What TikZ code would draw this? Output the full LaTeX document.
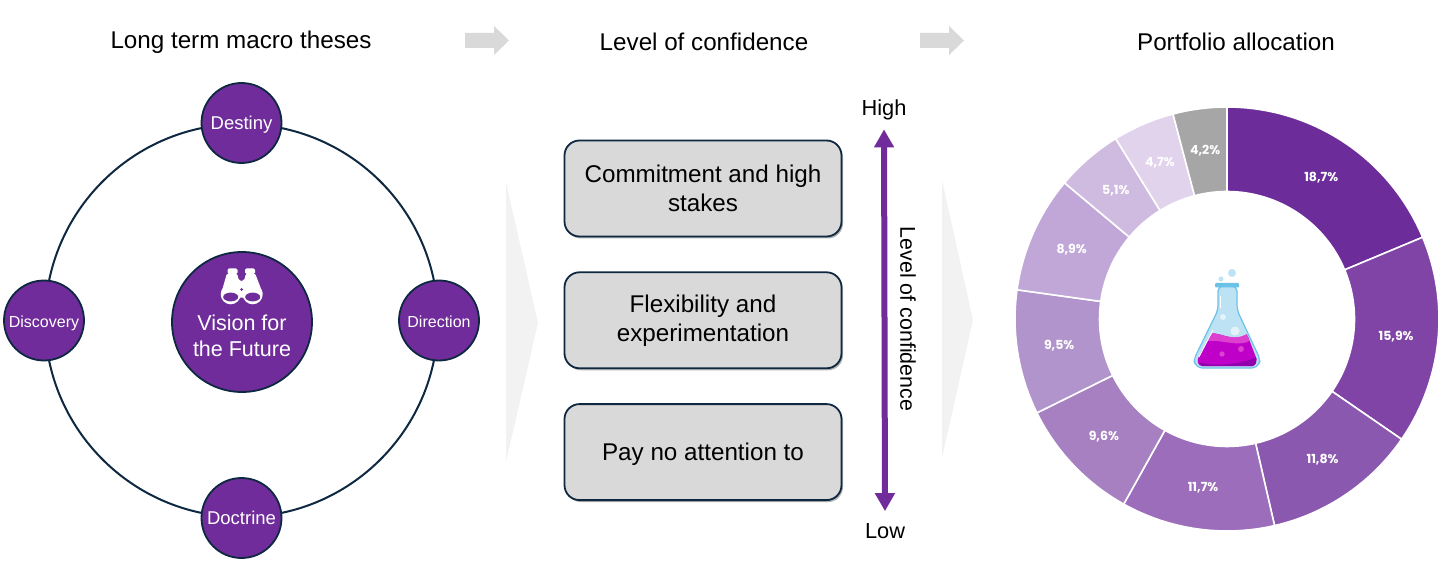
\documentclass[tikz,border=0pt]{standalone}
\usepackage{fontspec}
\setmainfont{Liberation Sans}
\newfontfamily\pctfont{Poppins}
\usetikzlibrary{arrows.meta, positioning, shadows}
\definecolor{visionpurple}{HTML}{6F2C9A}
\definecolor{ringnavy}{HTML}{0E2841}
\definecolor{boxgrey}{HTML}{D9D9D9}
\definecolor{palegrey}{HTML}{F2F2F2}
\definecolor{chevrongrey}{HTML}{D9D9D9}
\definecolor{slicea}{HTML}{6C2D9A}
\definecolor{sliceb}{HTML}{7F44A6}
\definecolor{slicec}{HTML}{8B58AF}
\definecolor{sliced}{HTML}{9B6DBA}
\definecolor{slicee}{HTML}{A680C0}
\definecolor{slicef}{HTML}{B294CC}
\definecolor{sliceg}{HTML}{C1A7D8}
\definecolor{sliceh}{HTML}{D0BBE0}
\definecolor{slicei}{HTML}{E1D3EC}
\definecolor{slicej}{HTML}{A6A6A6}
\definecolor{glassblue}{HTML}{BDE2F3}
\definecolor{glassedge}{HTML}{6CC2E6}
\definecolor{liquidmain}{HTML}{BE00C8}
\definecolor{liquidtop}{HTML}{DD3FCF}
\definecolor{liquiddark}{HTML}{9200AE}
\tikzset{
    headline/.style={font=\fontsize{24.2}{29}\selectfont, inner sep=0pt},
    endlabel/.style={font=\fontsize{21.8}{26}\selectfont, inner sep=0pt},
    moon/.style={circle, draw=ringnavy, line width=1.8pt, fill=visionpurple, text=white,
                 minimum size=80pt, inner sep=0pt, text height=15pt, text depth=2pt,
                 font=\fontsize{16}{19}\selectfont},
    bigmoon/.style={moon, font=\fontsize{18.5}{22}\selectfont},
    stagebox/.style={draw=ringnavy, fill=boxgrey, line width=1.8pt, rounded corners=15pt,
                     minimum width=277pt, minimum height=96pt, inner sep=0pt, align=center,
                     font=\fontsize{24.2}{29}\selectfont,
                     execute at begin node={\rule{0pt}{21pt}},
                     drop shadow={shadow xshift=1.5pt, shadow yshift=-2pt, fill=black, opacity=.3}},
    pctlabel/.style={text=white, font=\pctfont\bfseries\fontsize{12.5}{15}\selectfont, inner sep=0pt}
}
\begin{document}
\begin{tikzpicture}[x=1pt, y=-1pt]
    \useasboundingbox (0,0) rectangle (1456,585);

    \node[headline] (macro) at (241,42) {Long term macro theses};
    \node[headline] (level) at (704,42) {Level of confidence};
    \node[headline] (alloc) at (1236,42) {Portfolio allocation};
    \foreach \xa in {465,920}{
        \fill[chevrongrey] (\xa,33) -- (\xa+29,33) -- (\xa+29,26) -- (\xa+44,40.5) -- (\xa+29,55) -- (\xa+29,48) -- (\xa,48) -- cycle;
    }

    \fill[palegrey] (506,182) -- (538,323) -- (506,462) -- cycle;
    \fill[palegrey] (942,180) -- (973,320) -- (942,458) -- cycle;

    \node[circle, draw=ringnavy, line width=2pt, minimum size=393pt, inner sep=0pt] (ring) at (241.5,320.5) {};
    \node[bigmoon] (destiny) at (ring.north) {Destiny};
    \node[bigmoon] (doctrine) at (ring.south) {Doctrine};
    \node[moon] (discovery) at (ring.west) {Discovery};
    \node[moon] (direction) at (ring.east) {Direction};
    \node[circle, draw=ringnavy, line width=1.8pt, fill=visionpurple, text=white, minimum size=140pt,
          inner sep=0pt] (vision) at (242,322) {};
    \node[text=white, align=center, inner sep=0pt, font=\fontsize{21.5}{26}\selectfont] (visiontext) at (242,336) {Vision for\\the Future};

    \fill[white, rounded corners=1.5pt] (227.5,268.3) rectangle (237.5,274) (245,268.3) rectangle (255,274);
    \fill[white, rounded corners=2pt] (227,273) -- (237,273) -- (239,281) -- (244,281) -- (246,273) -- (255,273)
        -- (263,294) -- (242,298) -- (221,294) -- cycle;
    \fill[white] (230.7,294.3) circle[radius=10] (252.7,294.3) circle[radius=10];
    \fill[visionpurple] (230.7,297) ellipse[x radius=7.5, y radius=4.4] (252.7,297) ellipse[x radius=7.5, y radius=4.4]
        (241.5,289.5) circle[radius=1.5];

    \node[stagebox] (commit) at (703,188.5) {Commitment and high\\stakes};
    \node[stagebox, below=34pt of commit.south, anchor=north] (flex) {Flexibility and\\experimentation};
    \node[stagebox, below=34pt of flex.south, anchor=north] (ignore) {Pay no attention to};

    \node[endlabel] (high) at (884,110) {High};
    \node[endlabel] (low) at (885,531) {Low};
    \draw[visionpurple, line width=6pt, {Triangle[length=18pt, width=19pt]}-{Triangle[length=18pt, width=19pt]},
          shorten <=9pt, shorten >=12pt] (high.south) -- (low.north);
    \node[rotate=-90, inner sep=0pt, font=\fontsize{21.4}{26}\selectfont] (axis) at (908,319) {Level of confidence};

    \begin{scope}[shift={(1227,319)}]
        \foreach \from/\to/\shade/\txt in {0/18.7/slicea/{18,7\%}, 18.7/34.6/sliceb/{15,9\%}, 34.6/46.4/slicec/{11,8\%},
                                           46.4/58.1/sliced/{11,7\%}, 58.1/67.7/slicee/{9,6\%}, 67.7/77.2/slicef/{9,5\%},
                                           77.2/86.1/sliceg/{8,9\%}, 86.1/91.2/sliceh/{5,1\%}, 91.2/95.9/slicei/{4,7\%},
                                           95.9/100/slicej/{4,2\%}}{
            \pgfmathsetmacro\startang{\from*3.6-90}
            \pgfmathsetmacro\stopang{\to*3.6-90}
            \pgfmathsetmacro\midang{(\startang+\stopang)/2}
            \filldraw[fill=\shade, draw=white, line width=1.6pt]
                (\startang:212) arc[start angle=\startang, end angle=\stopang, radius=212]
                -- (\stopang:127.5) arc[start angle=\stopang, end angle=\startang, radius=127.5] -- cycle;
            \node[pctlabel] at (\midang:170) {\txt};
        }
    \end{scope}

    \filldraw[fill=glassblue, draw=glassedge, line width=1.2pt, rounded corners=5pt]
        (1218,286) -- (1218,310) -- (1193.5,360) -- (1197,368) -- (1257,368) -- (1260.5,360) -- (1237,310) -- (1237,286) -- cycle;
    \fill[glassedge, rounded corners=1pt] (1215,283) rectangle (1239,287.5);
    \fill[glassblue] (1232,273) circle[radius=4] (1221,279) circle[radius=2.5];
    \fill[liquidmain, rounded corners=3pt] (1197,360) -- (1212,333) .. controls (1225,335) and (1235,341) .. (1247,334)
        -- (1257,360) -- (1255,366) -- (1199,366) -- cycle;
    \fill[liquidtop] (1212,333) .. controls (1225,335) and (1235,341) .. (1247,334) -- (1249.5,341)
        .. controls (1238,347) and (1225,340) .. (1208,341) -- cycle;
    \fill[liquiddark, rounded corners=2pt] (1199,362) .. controls (1220,368) and (1245,362) .. (1257,357) -- (1255,366) -- (1200,366) -- cycle;
    \fill[liquidtop] (1241,349) circle[radius=3] (1222,354) circle[radius=2.7];
    \fill[white, opacity=.6] (1223,317) circle[radius=3] (1235,331) circle[radius=4.5];
    \draw[white, line width=.8pt] (1213,330) -- (1199,357);
    \draw[white, line width=.8pt] (1220,296) -- (1220,308);
\end{tikzpicture}
\end{document}
